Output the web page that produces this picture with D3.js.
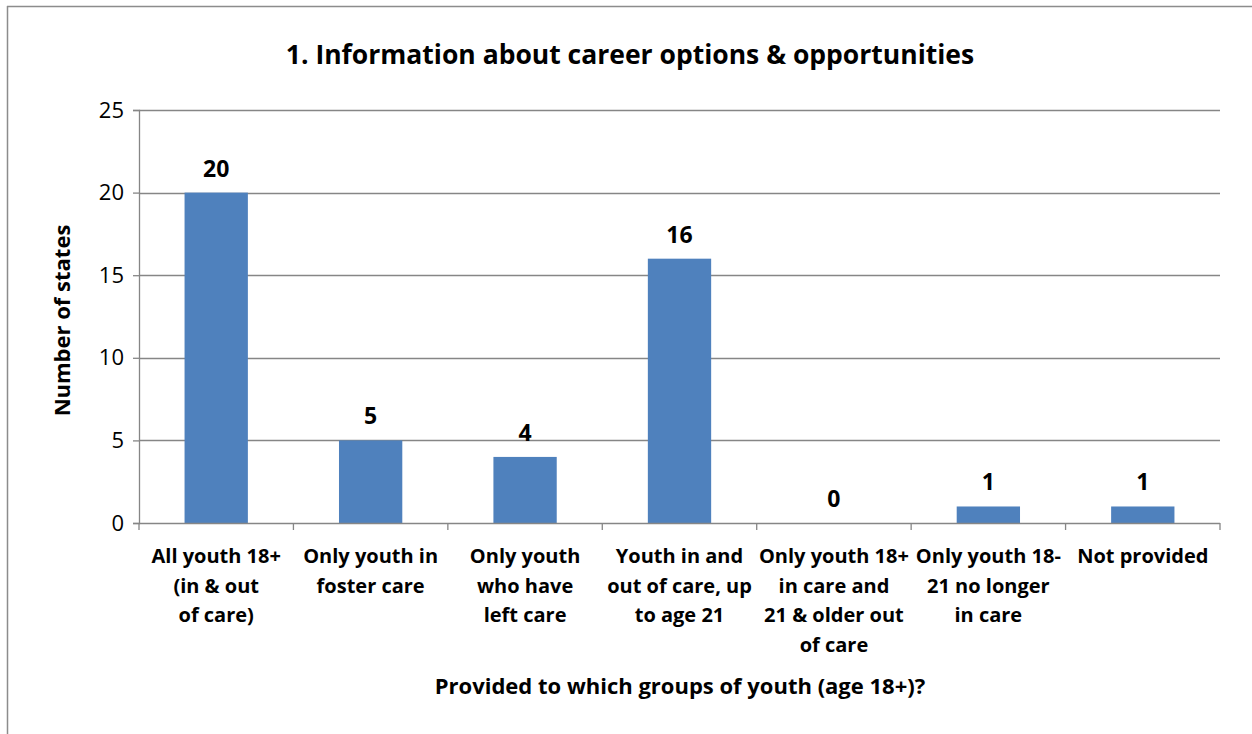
<!DOCTYPE html>
<html>
<head>
<meta charset="utf-8">
<script src="https://cdn.jsdelivr.net/npm/d3@7"></script>
<style>
  html, body { margin: 0; padding: 0; background: #fff; }
  svg { display: block; font-family: "Open Sans", Lato, "Liberation Sans", sans-serif; }
</style>
</head>
<body>
<svg id="chart" width="1252" height="734"></svg>
<script>
// Bar chart: number of states providing career information, by youth group
const categories = [
  ["All youth 18+", "(in & out", "of care)"],
  ["Only youth in", "foster care"],
  ["Only youth", "who have", "left care"],
  ["Youth in and", "out of care, up", "to age 21"],
  ["Only youth 18+", "in care and", "21 & older out", "of care"],
  ["Only youth 18-", "21 no longer", "in care"],
  ["Not provided"]
];
const values = [20, 5, 4, 16, 0, 1, 1];
const yTicks = [0, 5, 10, 15, 20, 25];

const title = "1. Information about career options & opportunities";
const yTitle = "Number of states";
const xTitle = "Provided to which groups of youth (age 18+)?";

const svg = d3.select("#chart");
const margin = { left: 139, right: 32, top: 110, bottom: 211 };
const W = 1252, H = 734;
const plotW = W - margin.left - margin.right;
const plotH = H - margin.top - margin.bottom;

const gridColor = "#868686";
const barColor = "#4F81BD";
const FONT = "'Open Sans', Lato, 'Liberation Sans', sans-serif";

// outer chart frame (top and left edges visible)
svg.append("line").attr("x1", 7).attr("x2", W).attr("y1", 6.5).attr("y2", 6.5)
  .attr("stroke", "#8c8c8c").attr("stroke-width", 1.5);
svg.append("line").attr("x1", 7.5).attr("x2", 7.5).attr("y1", 6).attr("y2", H)
  .attr("stroke", "#8c8c8c").attr("stroke-width", 1.5);

const x = d3.scaleBand()
  .domain(d3.range(categories.length))
  .range([0, plotW])
  .paddingInner(0.59)
  .paddingOuter(0.295);

const y = d3.scaleLinear().domain([0, 25]).range([plotH, 0]);

const g = svg.append("g").attr("transform", `translate(${margin.left},${margin.top})`);

// horizontal gridlines
g.append("g").selectAll("line").data(yTicks.filter(t => t > 0)).join("line")
  .attr("x1", 0).attr("x2", plotW)
  .attr("y1", d => Math.round(y(d)) + 0.5).attr("y2", d => Math.round(y(d)) + 0.5)
  .attr("stroke", gridColor).attr("stroke-width", 1.3);

// y axis
const yAxis = g.append("g")
  .call(d3.axisLeft(y).tickValues(yTicks).tickSize(6).tickPadding(9).tickFormat(d3.format("d")));
yAxis.select(".domain").attr("stroke", gridColor).attr("stroke-width", 1.3);
yAxis.selectAll(".tick line").attr("stroke", gridColor).attr("stroke-width", 1.3);
yAxis.selectAll(".tick text").attr("font-size", 22).attr("fill", "#000")
  .attr("font-family", FONT);

// bars
g.append("g").selectAll("rect").data(values).join("rect")
  .attr("x", (d, i) => x(i))
  .attr("width", x.bandwidth())
  .attr("y", d => y(d))
  .attr("height", d => plotH - y(d))
  .attr("fill", barColor);

// value labels
g.append("g").selectAll("text").data(values).join("text")
  .attr("x", (d, i) => x(i) + x.bandwidth() / 2)
  .attr("y", d => y(d) - 16)
  .attr("text-anchor", "middle")
  .attr("font-size", 23).attr("font-weight", "bold").attr("fill", "#000")
  .text(d => d);

// x axis baseline with ticks at category boundaries
g.append("line").attr("x1", 0).attr("x2", plotW)
  .attr("y1", plotH + 0.5).attr("y2", plotH + 0.5)
  .attr("stroke", gridColor).attr("stroke-width", 1.3);
g.append("g").selectAll("line").data(d3.range(categories.length + 1)).join("line")
  .attr("x1", i => i * plotW / categories.length).attr("x2", i => i * plotW / categories.length)
  .attr("y1", plotH).attr("y2", plotH + 7)
  .attr("stroke", gridColor).attr("stroke-width", 1.3);

// category labels
const catG = g.append("g").selectAll("text").data(categories).join("text")
  .attr("text-anchor", "middle")
  .attr("font-size", 20).attr("font-weight", "bold").attr("fill", "#000");
catG.each(function(lines, i) {
  d3.select(this).selectAll("tspan").data(lines).join("tspan")
    .attr("x", x(i) + x.bandwidth() / 2)
    .attr("y", (d, k) => plotH + 40 + k * 29.5)
    .text(d => d);
});

// titles
svg.append("text").attr("x", 630).attr("y", 64)
  .attr("text-anchor", "middle").attr("font-size", 26.5).attr("font-weight", "bold")
  .text(title);

svg.append("text")
  .attr("transform", `translate(70, ${margin.top + plotH / 2 + 4}) rotate(-90)`)
  .attr("text-anchor", "middle").attr("font-size", 22).attr("font-weight", "bold")
  .text(yTitle);

svg.append("text").attr("x", 680).attr("y", 694)
  .attr("text-anchor", "middle").attr("font-size", 22).attr("font-weight", "bold")
  .text(xTitle);
</script>
</body>
</html>
